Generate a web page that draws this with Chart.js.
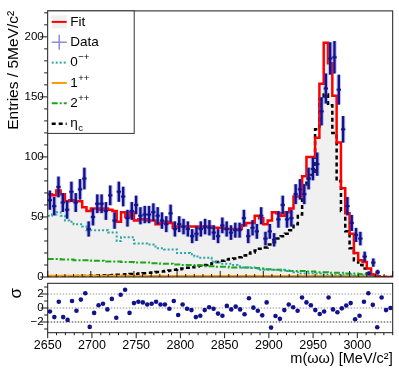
<!DOCTYPE html>
<html lang="es">
<head>
<meta charset="utf-8">
<title>Ajuste m(ωω)</title>
<script src="https://cdn.jsdelivr.net/npm/chart.js@4.4.1/dist/chart.umd.min.js"></script>
<style>
  body { margin: 0; background: #fff; }
  #lienzo { position: relative; width: 399px; height: 372px; }
  #lienzo canvas { position: absolute; left: 0; top: 0; }
</style>
</head>
<body>
<div id="lienzo">
  <canvas id="graficoAjuste" width="399" height="372"></canvas>
  <canvas id="graficoPull" width="399" height="372"></canvas>
</div>
<script>
// Bins de 5 MeV/c2 empezando en 2650
const inicioBins = 2650;
const anchoBin = 5;

// Entradas de datos por bin
const datos = [
    64, 59, 75, 62, 56, 71, 62, 73, 82, 40,
    50, 61, 61, 55, 68, 47, 71, 67, 49, 55,
    60, 51, 52, 52, 54, 51, 47, 44, 53, 40,
    44, 42, 40, 34, 36, 40, 42, 41, 37, 34,
    43, 40, 37, 39, 39, 49, 34, 41, 38, 51,
    32, 38, 31, 48, 60, 48, 49, 69, 73, 69,
    82, 90, 94, 138, 157, 182, 183, 156, 123, 59,
    45, 35, 32, 17, 3, 12, 4
];

// Ajuste total
const ajuste = [
    69, 69, 68, 72, 69, 63, 64, 63, 63, 58,
    55, 57, 57, 56, 57, 56, 55, 46, 54, 50,
    54, 47, 48, 48, 47, 47, 44, 45, 46, 45,
    41, 42, 42, 42, 42, 42, 41, 42, 42, 41,
    41, 41, 40, 40, 40, 40, 43, 45, 45, 51,
    49, 44, 47, 54, 53, 51, 54, 57, 67, 67,
    84, 100, 100, 116, 161, 195, 178, 151, 112, 74,
    53, 36, 20, 14, 12.5, 7, 2, 0.3, 0, 0
];

// Componentes del ajuste
const comp0mp = [
    51, 51, 52, 54, 51, 47, 46, 44, 44, 42,
    39, 39, 39, 39, 39, 37, 37, 30, 33, 33,
    33, 28, 28, 28, 27, 27, 24, 24, 23, 23,
    23, 20, 20, 20, 19, 17, 16, 16, 16, 13,
    12, 11, 11, 11, 10, 9, 8, 8, 8, 7,
    6, 6, 6, 6, 6, 6, 5, 5, 4, 3,
    3, 3, 3, 3, 3, 2, 2, 2, 2, 2,
    2, 2, 1.5, 1.5, 1.5, 1, 0.5, 0, 0, 0
];
const comp1pp = [
    1, 1, 1, 1, 1, 1, 1, 1, 1, 1,
    1, 1, 1, 1, 1, 1, 1, 1, 1, 1,
    0.9, 0.9, 0.9, 0.9, 0.9, 0.9, 0.9, 0.9, 0.9, 0.9,
    0.9, 0.9, 0.9, 0.9, 0.9, 0.9, 0.9, 0.9, 0.9, 0.9,
    0.8, 0.8, 0.8, 0.8, 0.8, 0.8, 0.8, 0.8, 0.8, 0.8,
    0.8, 0.8, 0.8, 0.8, 0.8, 0.8, 0.8, 0.8, 0.8, 0.8,
    0.8, 0.8, 0.8, 0.8, 0.8, 0.8, 0.8, 0.8, 0.8, 0.8,
    0.8, 0.8, 0.8, 0.8, 0.8, 0.6, 0, 0, 0, 0
];
const comp2pp = [
    15, 15, 15, 15, 14.5, 14.5, 14.5, 14, 14, 14,
    14, 13.5, 13.5, 13.5, 13, 13, 13, 13, 12.5, 12.5,
    12.5, 12, 12, 12, 12, 11.5, 11.5, 11, 11, 11,
    10.5, 10.5, 10, 10, 10, 9.5, 9.5, 9, 9, 9,
    8.5, 8.5, 8.5, 8, 8, 8, 8, 8, 7.5, 7.5,
    7, 6.5, 6.5, 6, 6, 5.5, 5.5, 5, 5, 5,
    5, 4.5, 4.5, 4, 4, 4, 3.5, 3.5, 3.5, 3.5,
    3, 3, 3, 2.5, 2.5, 2, 2, 0.5, 0, 0
];
const compEtac = [
    0.3, 0.4, 0.4, 0.5, 0.5, 0.6, 0.6, 0.7, 0.8, 0.9,
    1, 1.1, 1.2, 1.3, 1.4, 1.5, 1.6, 1.8, 2, 2.2,
    2.4, 2.6, 2.9, 3.2, 3.5, 3.8, 4.1, 4.5, 5, 5.5,
    6, 6.5, 7, 7.6, 8.2, 8.8, 9.4, 10, 10.7, 11.5,
    12.5, 13.5, 14.5, 15, 15.5, 16.5, 18, 19.5, 20.5, 22,
    23.5, 24.5, 27, 29, 32, 34, 36, 39, 44, 52,
    77, 82, 85, 123, 148, 152, 143, 120, 80, 55,
    38, 24, 14, 10, 7, 3, 1.5, 0.5, 0, 0
];

// Pulls del panel inferior
const pulls = [
    -0.5, -1.3, 0.9, -1.3, -1.7, 1.0, -0.4, 1.2, 2.1, -2.7,
    -0.7, 0.4, 0.6, -0.2, 1.3, -1.4, 1.9, 2.6, -0.7, 0.7,
    0.9, 0.8, 0.5, 0.6, 0.9, 0.5, 0.5, -0.1, 1.0, -1.0,
    0.5, -0.1, -0.3, -1.3, -1.1, -0.3, 0.1, -0.1, -0.8, -1.1,
    0.3, -0.2, 0.2, -0.2, -0.9, 1.4, 0.05, -0.4, -1.05, 0.8,
    -2.8, -1.15, -1.55, -0.3, 0.5, 0.1, -0.4, 1.5, 0.8, 0.4,
    -0.3, -0.85, -0.5, 1.5, -0.2, -0.6, -0.05, 0.35, 0.7, -1.6,
    -1.1, 0.9, 2.1, 0.45, -2.75, 1.5, -0.3, 0
];

const fuente = "'Liberation Sans', Arial, Helvetica, sans-serif";
Chart.defaults.font.family = fuente;
Chart.defaults.color = '#000';
Chart.defaults.animation = false;

const colorDatos = '#12128c';
const color0mp = '#2aa7a7';
const color1pp = '#ff9900';
const color2pp = '#18a818';

// Un punto por borde izquierdo de bin, mas el borde final (para stepped 'after')
function escalones(valores) {
    const puntos = valores.map((v, i) => ({ x: inicioBins + i * anchoBin, y: v }));
    puntos.push({ x: inicioBins + valores.length * anchoBin, y: valores[valores.length - 1] });
    return puntos;
}

function centros(valores) {
    return valores.map((v, i) => ({ x: inicioBins + (i + 0.5) * anchoBin, y: v }));
}

// Marco y marcas de los ejes
const marcoPlugin = {
    id: 'marco',
    afterDraw(chart, args, opts) {
        const { ctx, chartArea: a } = chart;
        ctx.save();
        ctx.strokeStyle = '#1a1a1a';
        ctx.lineWidth = 1;
        ctx.strokeRect(a.left, a.top, a.right - a.left, a.bottom - a.top);
        (opts.marcas || []).forEach(m => {
            const escala = chart.scales[m.eje];
            for (let i = 0; ; i++) {
                const v = m.desde + i * m.paso;
                if (v > m.hasta + 1e-9) break;
                const mayor = Math.abs(v / m.mayor - Math.round(v / m.mayor)) < 1e-6;
                const largo = mayor ? m.largoMayor : m.largoMenor;
                const p = escala.getPixelForValue(v);
                ctx.beginPath();
                if (m.eje === 'x') {
                    ctx.moveTo(p, a.bottom);
                    ctx.lineTo(p, a.bottom + m.dir * largo);
                } else {
                    ctx.moveTo(a.left, p);
                    ctx.lineTo(a.left + m.dir * largo, p);
                }
                ctx.stroke();
            }
        });
        ctx.restore();
    }
};

// Barras de error de los datos
const barrasPlugin = {
    id: 'barras',
    afterDatasetsDraw(chart) {
        const { ctx, scales } = chart;
        const ds = chart.data.datasets.find(d => d.conBarras);
        if (!ds) return;
        ctx.save();
        ds.data.forEach(p => {
            if (!p.y) return;
            const err = Math.sqrt(p.y);
            const px = scales.x.getPixelForValue(p.x);
            const py = scales.y.getPixelForValue(p.y);
            const yArriba = scales.y.getPixelForValue(p.y + err);
            const yAbajo = scales.y.getPixelForValue(Math.max(p.y - err, 0));
            const xIzq = scales.x.getPixelForValue(p.x - anchoBin / 2);
            const xDer = scales.x.getPixelForValue(p.x + anchoBin / 2);
            [['rgba(90, 90, 210, 0.35)', 4.5, 3.5], [colorDatos, 2.4, 1.8]].forEach(([color, anchoV, anchoH]) => {
                ctx.strokeStyle = color;
                ctx.lineWidth = anchoV;
                ctx.beginPath();
                ctx.moveTo(px, yArriba);
                ctx.lineTo(px, yAbajo);
                ctx.stroke();
                ctx.lineWidth = anchoH;
                ctx.beginPath();
                ctx.moveTo(xIzq, py);
                ctx.lineTo(xDer, py);
                ctx.stroke();
            });
        });
        ctx.restore();
    }
};

// Leyenda dibujada a mano (super/subindices)
const leyendaPlugin = {
    id: 'leyenda',
    afterDraw(chart, args, opts) {
        const { ctx, chartArea: a } = chart;
        const x0 = a.left, y0 = a.top;
        ctx.save();
        ctx.fillStyle = '#fff';
        ctx.fillRect(x0, y0, 86.5, 122.5);
        ctx.strokeStyle = '#333';
        ctx.lineWidth = 1;
        ctx.strokeRect(x0, y0, 86.5, 122.5);
        const sx = x0 + 4, ex = x0 + 19, tx = x0 + 22.5;
        opts.entradas.forEach((e, i) => {
            const y = y0 + 11 + i * 20.35;
            ctx.setLineDash([]);
            if (e.tipo === 'ajuste') {
                ctx.fillStyle = '#f0f0f0';
                ctx.fillRect(sx, y - 6.5, ex - sx, 13);
                ctx.strokeStyle = '#ff0000';
                ctx.lineWidth = 2;
                ctx.beginPath(); ctx.moveTo(sx, y); ctx.lineTo(ex, y); ctx.stroke();
            } else if (e.tipo === 'datos') {
                ctx.strokeStyle = '#8c8cd9';
                ctx.lineWidth = 1.5;
                ctx.beginPath();
                ctx.moveTo(sx, y); ctx.lineTo(ex, y);
                ctx.moveTo((sx + ex) / 2, y - 7.5); ctx.lineTo((sx + ex) / 2, y + 7.5);
                ctx.stroke();
            } else {
                ctx.strokeStyle = e.color;
                ctx.lineWidth = e.grosor;
                ctx.setLineDash(e.trazo);
                ctx.beginPath(); ctx.moveTo(sx, y); ctx.lineTo(ex, y); ctx.stroke();
                ctx.setLineDash([]);
            }
            ctx.fillStyle = '#000';
            ctx.textBaseline = 'middle';
            ctx.textAlign = 'left';
            ctx.font = '13.5px ' + fuente;
            ctx.fillText(e.texto, tx, y);
            const w = ctx.measureText(e.texto).width;
            ctx.font = '9.5px ' + fuente;
            if (e.sup) ctx.fillText(e.sup, tx + w + 0.5, y - 5);
            if (e.sub) ctx.fillText(e.sub, tx + w + 0.5, y + 5);
        });
        ctx.restore();
    }
};

// Lineas de referencia del panel de pulls
const referenciaPlugin = {
    id: 'referencia',
    beforeDatasetsDraw(chart) {
        const { ctx, chartArea: a, scales } = chart;
        ctx.save();
        ctx.setLineDash([1.5, 1.5]);
        ctx.lineWidth = 1;
        [[2, '#9a9a9a'], [0, '#8a8a8a'], [-2, '#333']].forEach(([v, color]) => {
            const y = scales.y.getPixelForValue(v);
            ctx.strokeStyle = color;
            ctx.beginPath(); ctx.moveTo(a.left, y); ctx.lineTo(a.right, y); ctx.stroke();
        });
        ctx.restore();
    }
};

const lineaComp = (datosComp, color, trazo, grosor) => ({
    type: 'line',
    data: escalones(datosComp),
    borderColor: color,
    borderDash: trazo,
    borderWidth: grosor,
    stepped: 'after',
    pointRadius: 0,
    fill: false,
    order: 2
});

const graficoAjuste = new Chart(document.getElementById('graficoAjuste'), {
    type: 'line',
    data: {
        datasets: [
            {
                data: escalones(ajuste),
                borderColor: '#ff0000',
                borderWidth: 2.5,
                backgroundColor: '#f0f0f0',
                fill: 'origin',
                stepped: 'after',
                pointRadius: 0,
                order: 1
            },
            lineaComp(comp0mp, color0mp, [2, 2], 2),
            lineaComp(comp1pp, color1pp, [], 2),
            lineaComp(comp2pp, color2pp, [6, 2, 2, 2], 2),
            lineaComp(compEtac, '#000', [4, 3], 2.5),
            {
                type: 'scatter',
                data: centros(datos),
                conBarras: true,
                pointRadius: 0,
                showLine: false,
                order: 0
            }
        ]
    },
    options: {
        responsive: false,
        layout: { padding: { left: 0, right: 6.3, top: 7.3, bottom: 95 } },
        scales: {
            x: { type: 'linear', display: false, min: 2650, max: 3050 },
            y: {
                min: 0,
                max: 221.6,
                grid: { display: false, drawTicks: false },
                border: { display: false },
                ticks: {
                    stepSize: 10,
                    includeBounds: false,
                    autoSkip: false,
                    padding: 4,
                    font: { size: 11.5 },
                    callback: v => (v % 50 === 0 ? String(v) : '')
                },
                title: {
                    display: true,
                    text: 'Entries / 5MeV/c²',
                    align: 'end',
                    font: { size: 15.5 },
                    padding: { top: 4, bottom: 0 }
                },
                afterFit: s => { s.width = 47.7; }
            }
        },
        plugins: {
            legend: { display: false },
            tooltip: { enabled: false },
            filler: { drawTime: 'beforeDatasetsDraw' },
            marco: {
                marcas: [
                    { eje: 'y', desde: 0, hasta: 220, paso: 10, mayor: 50, largoMayor: 7.5, largoMenor: 3.5, dir: -1 },
                    { eje: 'x', desde: 2650, hasta: 3050, paso: 10, mayor: 50, largoMayor: 6, largoMenor: 3, dir: -1 }
                ]
            },
            leyenda: {
                entradas: [
                    { tipo: 'ajuste', texto: 'Fit' },
                    { tipo: 'datos', texto: 'Data' },
                    { texto: '0', sup: '−+', color: color0mp, trazo: [2, 2], grosor: 2 },
                    { texto: '1', sup: '++', color: color1pp, trazo: [], grosor: 2 },
                    { texto: '2', sup: '++', color: color2pp, trazo: [6, 2, 2, 2], grosor: 2 },
                    { texto: 'η', sub: 'c', color: '#000', trazo: [4, 3], grosor: 2.5 }
                ]
            }
        }
    },
    plugins: [barrasPlugin, marcoPlugin, leyendaPlugin]
});

const graficoPull = new Chart(document.getElementById('graficoPull'), {
    type: 'scatter',
    data: {
        datasets: [{
            data: centros(pulls),
            pointRadius: 2.3,
            pointBackgroundColor: colorDatos,
            pointBorderWidth: 0
        }]
    },
    options: {
        responsive: false,
        layout: { padding: { left: 0, right: 6.3, top: 283.3, bottom: 0 } },
        scales: {
            x: {
                type: 'linear',
                min: 2650,
                max: 3040,
                grid: { display: false, drawTicks: false },
                border: { display: false },
                ticks: {
                    stepSize: 10,
                    autoSkip: false,
                    maxRotation: 0,
                    includeBounds: false,
                    padding: 5,
                    font: { size: 12.5 },
                    callback: v => (v % 50 === 0 ? String(v) : '')
                },
                title: {
                    display: true,
                    text: 'm(ωω) [MeV/c²]',
                    align: 'end',
                    font: { size: 14.5 },
                    padding: { top: 0, bottom: 4 }
                },
                afterFit: s => { s.height = 39.3; }
            },
            y: {
                min: -3.53,
                max: 3.53,
                grid: { display: false, drawTicks: false },
                border: { display: false },
                ticks: {
                    stepSize: 1,
                    includeBounds: false,
                    autoSkip: false,
                    padding: 4,
                    font: { size: 11.5 },
                    callback: v => (v === 2 ? '2' : v === 0 ? '0' : v === -2 ? '\u22122' : '')
                },
                title: {
                    display: true,
                    text: 'σ ',
                    align: 'end',
                    font: { size: 17 },
                    padding: { top: 6, bottom: 0 }
                },
                afterFit: s => { s.width = 47.7; }
            }
        },
        plugins: {
            legend: { display: false },
            tooltip: { enabled: false },
            marco: {
                marcas: [
                    { eje: 'y', desde: -3, hasta: 3, paso: 1, mayor: 2, largoMayor: 7, largoMenor: 3.5, dir: -1 },
                    { eje: 'x', desde: 2650, hasta: 3040, paso: 10, mayor: 50, largoMayor: 5.5, largoMenor: 2.5, dir: 1 }
                ]
            }
        }
    },
    plugins: [referenciaPlugin, marcoPlugin]
});
</script>
</body>
</html>
